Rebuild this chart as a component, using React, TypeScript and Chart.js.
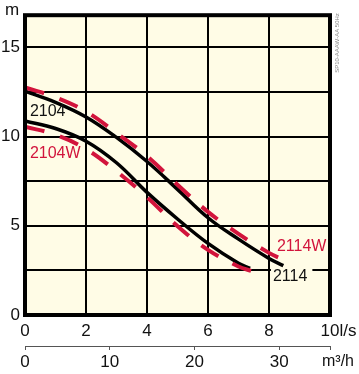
import React, { useEffect, useRef } from 'react';
import { Chart, registerables } from 'chart.js';

Chart.register(...registerables);

// ---- data (flow in l/s, head in m) ----
const qA = [0, 1, 2, 3, 4, 5, 6, 7, 8, 8.47];
const hA = [12.54, 11.92, 11.1, 9.95, 8.6, 7.04, 5.45, 4.25, 3.17, 2.77];
const qAW = [0, 1, 2, 3, 4, 5, 6, 7, 8, 8.47];
const hAW = [12.75, 12.2, 11.4, 10.2, 8.9, 7.3, 5.78, 4.55, 3.48, 3.1];
const qB = [0, 1, 2, 3, 4, 5, 6, 7, 7.38];
const hB = [10.88, 10.45, 9.74, 8.53, 6.87, 5.38, 4.01, 2.9, 2.62];
const qBW = [0, 1, 2, 3, 4, 5, 6, 7, 7.43];
const hBW = [10.55, 10.1, 9.3, 8.05, 6.6, 4.98, 3.65, 2.72, 2.46];

const xMax = 10; // l/s
const yMax = 16.8; // m
const m3hMax = 36; // m3/h equivalent of 10 l/s
const yLabelValues = [0, 5, 10, 15];
const m3hLabelValues = [0, 10, 20, 30];

const curveLabels = [
  { text: '2104', q: 0.16, h: 11.4, color: '#111111', bg: false },
  { text: '2104W', q: 0.16, h: 9.04, color: '#D2143C', bg: false },
  { text: '2114W', q: 8.26, h: 3.84, color: '#D2143C', bg: false },
  { text: '2114', q: 8.13, h: 2.13, color: '#111111', bg: true },
];

const FONT = '"Liberation Sans", Arial, Helvetica, sans-serif';
const RED = '#D2143C';
const CREAM = '#FFFCE6';

const toXY = (qs: number[], hs: number[]) => qs.map((q, i) => ({ x: q, y: hs[i] }));

const decor = {
  id: 'decor',
  beforeDraw(chart: any) {
    const { ctx, chartArea: a } = chart;
    ctx.save();
    ctx.fillStyle = CREAM;
    ctx.fillRect(a.left, a.top, a.right - a.left, a.bottom - a.top);
    ctx.restore();
  },
  beforeDatasetsDraw(chart: any) {
    const { ctx } = chart;
    const xs = chart.scales.x;
    const ys = chart.scales.y;
    ctx.save();
    ctx.font = `16px ${FONT}`;
    curveLabels.forEach((l) => {
      if (!l.bg) return;
      const px = xs.getPixelForValue(l.q);
      const py = ys.getPixelForValue(l.h);
      const w = ctx.measureText(l.text).width;
      ctx.fillStyle = CREAM;
      ctx.fillRect(px - 2, py - 10, w + 7, 20);
    });
    ctx.restore();
  },
  afterDraw(chart: any) {
    const { ctx, chartArea: a } = chart;
    const xs = chart.scales.x;
    const ys = chart.scales.y;
    const x2 = chart.scales.x2;
    ctx.save();
    // frame
    ctx.strokeStyle = '#000';
    ctx.lineWidth = 4;
    ctx.strokeRect(a.left, a.top, a.right - a.left, a.bottom - a.top);

    // curve labels
    ctx.font = `16px ${FONT}`;
    ctx.textBaseline = 'middle';
    ctx.textAlign = 'left';
    curveLabels.forEach((l) => {
      ctx.fillStyle = l.color;
      ctx.fillText(l.text, xs.getPixelForValue(l.q), ys.getPixelForValue(l.h));
    });

    // units
    ctx.fillStyle = '#111';
    ctx.font = `17px ${FONT}`;
    ctx.textAlign = 'center';
    ctx.fillText('m', 12, 10);
    ctx.textAlign = 'left';
    const w10 = ctx.measureText('10').width;
    ctx.fillText('l/s', xs.getPixelForValue(xMax) + w10 / 2, xs.top + 6 + 10);
    ctx.font = `16px ${FONT}`;
    ctx.fillText('m\u00B3/h', x2.getPixelForValue(m3hMax) - 8, x2.top + 16);

    // vertical note
    ctx.translate(337, 43);
    ctx.rotate(-Math.PI / 2);
    ctx.font = `6px ${FONT}`;
    ctx.fillStyle = '#888';
    ctx.textAlign = 'center';
    ctx.fillText('SP10-AAAW-AA 50Hz', 0, 0);
    ctx.restore();
  },
};

export default function App() {
  const ref = useRef<HTMLCanvasElement | null>(null);

  useEffect(() => {
    if (!ref.current) return;
    const lineBase = { pointRadius: 0, fill: false, tension: 0.4 };
    const chart = new Chart(ref.current, {
      type: 'line',
      data: {
        datasets: [
          { ...lineBase, label: '2104W', data: toXY(qAW, hAW), borderColor: RED, borderWidth: 4, borderDash: [20, 16] },
          { ...lineBase, label: '2114W', data: toXY(qBW, hBW), borderColor: RED, borderWidth: 4, borderDash: [20, 16] },
          { ...lineBase, label: '2104', data: toXY(qA, hA), borderColor: '#000', borderWidth: 3.5 },
          { ...lineBase, label: '2114', data: toXY(qB, hB), borderColor: '#000', borderWidth: 3.5 },
        ],
      },
      options: {
        animation: false,
        responsive: false,
        maintainAspectRatio: false,
        layout: { padding: { top: 15, right: 29, left: 0, bottom: 0 } },
        plugins: { legend: { display: false }, tooltip: { enabled: false } },
        scales: {
          x: {
            type: 'linear',
            position: 'bottom',
            weight: 0,
            min: 0,
            max: xMax,
            afterFit: (s: any) => { s.height = 31; },
            ticks: { stepSize: 2, padding: 6, maxRotation: 0, autoSkip: false, color: '#111', font: { size: 17, family: FONT } },
            grid: { color: '#000', lineWidth: 2, drawTicks: false },
            border: { display: false },
          },
          x2: {
            type: 'linear',
            position: 'bottom',
            weight: 1,
            min: 0,
            max: m3hMax,
            afterFit: (s: any) => { s.height = 28; },
            ticks: {
              stepSize: 10,
              padding: 2,
              maxRotation: 0,
              autoSkip: false,
              color: '#111',
              font: { size: 17, family: FONT },
              callback: (v: any) => (m3hLabelValues.includes(Number(v)) ? String(v) : ''),
            },
            grid: { drawOnChartArea: false, drawTicks: true, tickLength: 4, color: '#555', lineWidth: 1 },
            border: { display: true, color: '#555', width: 1 },
          },
          y: {
            type: 'linear',
            min: 0,
            max: yMax,
            afterFit: (s: any) => { s.width = 25; },
            ticks: {
              stepSize: 2.5,
              padding: 5,
              autoSkip: false,
              color: '#111',
              font: { size: 17, family: FONT },
              callback: (v: any) => (yLabelValues.includes(Number(v)) ? String(v) : ''),
            },
            grid: { color: '#000', lineWidth: 2, drawTicks: false },
            border: { display: false },
          },
        },
      },
      plugins: [decor],
    });
    return () => chart.destroy();
  }, []);

  return (
    <div style={{ position: 'fixed', left: 0, top: 0, width: 359, height: 374, background: '#fff' }}>
      <canvas ref={ref} width={359} height={374} style={{ width: 359, height: 374, display: 'block' }} />
    </div>
  );
}
